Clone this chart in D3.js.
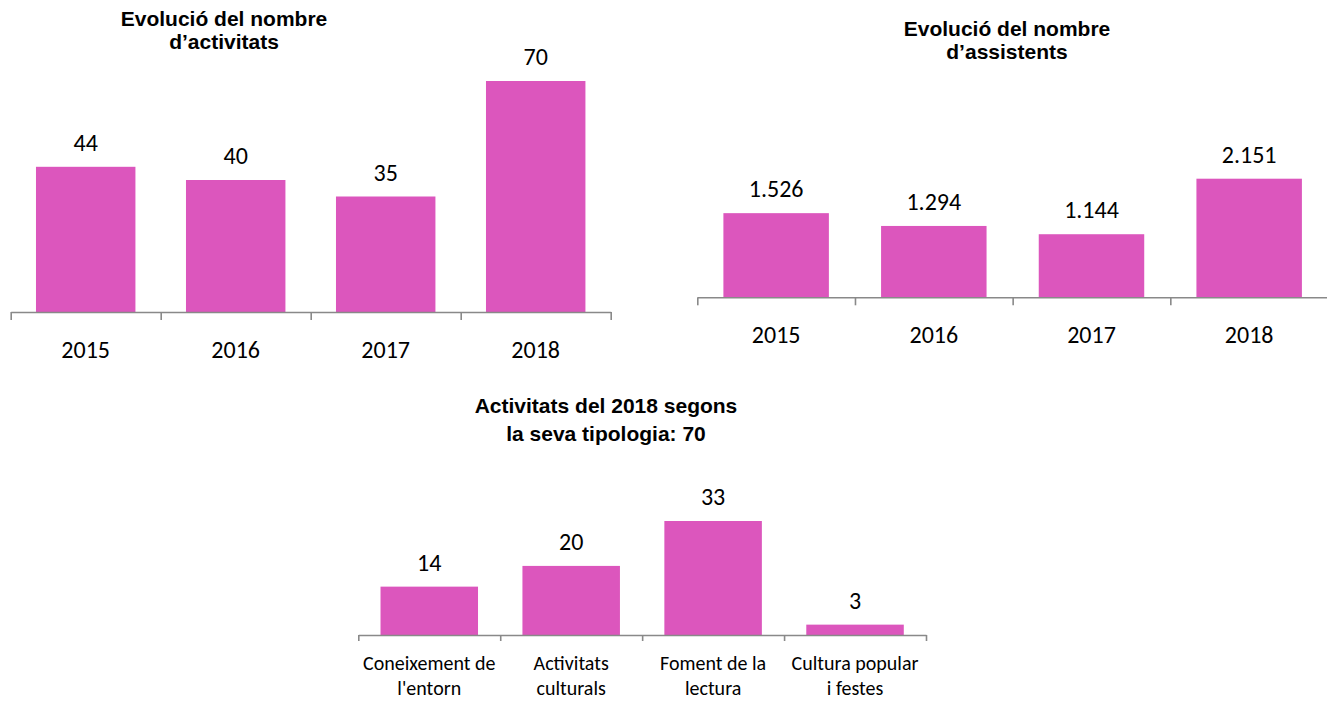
<!DOCTYPE html>
<html>
<head>
<meta charset="utf-8">
<script src="https://cdn.jsdelivr.net/npm/d3@7"></script>
<style>
  body { margin: 0; background: #fff; }
  .title { font-family: "Liberation Sans", Arial, sans-serif; font-weight: bold; font-size: 21px; fill: #000; }
  .lbl { font-family: Carlito, Calibri, Lato, sans-serif; font-size: 24px; fill: #000; }
  .axis path, .axis line { stroke: #898989; stroke-width: 1.6; }
</style>
</head>
<body>
<script>
    // dades
    const years = ["2015", "2016", "2017", "2018"];
    const activitats = [44, 40, 35, 70];
    const assistents = [1526, 1294, 1144, 2151];
    const tipologies = [["Coneixement de", "l'entorn"], ["Activitats", "culturals"], ["Foment de la", "lectura"], ["Cultura popular", "i festes"]];
    const tipologiaValues = [14, 20, 33, 3];

    const title1 = ["Evolució del nombre", "d’activitats"];
    const title2 = ["Evolució del nombre", "d’assistents"];
    const title3 = ["Activitats del 2018 segons", "la seva tipologia: 70"];

    const w = 1327;
    const h = 701;
    const barColor = "#dc56bd";

    // format catala: 1.526
    const fmt = d3.formatLocale({ decimal: ",", thousands: ".", grouping: [3], currency: ["", "€"] }).format(",d");

    const svg = d3.select("body").append("svg")
        .attr("width", w)
        .attr("height", h);

    function drawChart(o) {
        const g = svg.append("g");
        const n = o.cats.length;

        //band scale per les barres
        const x = d3.scaleBand()
            .domain(d3.range(n))
            .range([o.x0, o.x1])
            .paddingInner(o.pad)
            .paddingOuter(o.pad / 2);

        // escala lineal per les marques entre categories
        const edge = d3.scaleLinear().domain([0, n]).range([o.x0, o.x1]);

        const y = d3.scaleLinear()
            .domain([0, d3.max(o.values)])
            .range([o.base, o.top]);

        g.selectAll("rect")
            .data(o.values)
            .enter()
            .append("rect")
            .attr("x", (d, i) => x(i))
            .attr("y", d => y(d))
            .attr("width", x.bandwidth())
            .attr("height", d => o.base - y(d))
            .attr("fill", barColor);

        g.append("g")
            .attr("class", "axis")
            .attr("transform", "translate(0," + o.base + ")")
            .call(d3.axisBottom(edge).tickValues(d3.range(n + 1)).tickSize(o.tick).tickSizeOuter(0).tickFormat(""));

        // valors damunt les barres
        g.selectAll(".val")
            .data(o.values)
            .enter()
            .append("text")
            .attr("class", "lbl")
            .attr("x", (d, i) => x(i) + x.bandwidth() / 2)
            .attr("y", d => y(d) - 16)
            .attr("text-anchor", "middle")
            .text(d => o.format ? o.format(d) : d);

        // etiquetes de categoria
        const cat = g.selectAll(".cat")
            .data(o.cats)
            .enter()
            .append("text")
            .attr("class", "lbl")
            .attr("text-anchor", "middle")
            .style("font-size", o.catSize + "px");
        cat.each(function (d, i) {
            const lines = Array.isArray(d) ? d : [d];
            lines.forEach((t, k) => {
                d3.select(this).append("tspan")
                    .attr("x", x(i) + x.bandwidth() / 2)
                    .attr("y", o.base + o.catDy + k * o.catLine)
                    .text(t);
            });
        });

        // titol
        const tt = svg.append("text")
            .attr("class", "title")
            .attr("text-anchor", "middle");
        o.title.forEach((t, k) => {
            tt.append("tspan")
                .attr("x", o.titleX)
                .attr("y", o.titleY + k * o.titleLine)
                .text(t);
        });
    }

    drawChart({
        cats: years, values: activitats,
        x0: 10.7, x1: 610.7, pad: 0.337, base: 312, top: 81, tick: 8,
        catDy: 46, catLine: 0, catSize: 24,
        title: title1, titleX: 224, titleY: 26, titleLine: 23
    });

    drawChart({
        cats: years, values: assistents, format: fmt,
        x0: 697.3, x1: 1328, pad: 0.331, base: 297.3, top: 178.7, tick: 8,
        catDy: 46, catLine: 0, catSize: 24,
        title: title2, titleX: 1007, titleY: 36, titleLine: 23
    });

    drawChart({
        cats: tipologies, values: tipologiaValues,
        x0: 358.3, x1: 926, pad: 0.313, base: 635, top: 521, tick: 6,
        catDy: 35, catLine: 25, catSize: 20,
        title: title3, titleX: 606, titleY: 413, titleLine: 28
    });
</script>
</body>
</html>
